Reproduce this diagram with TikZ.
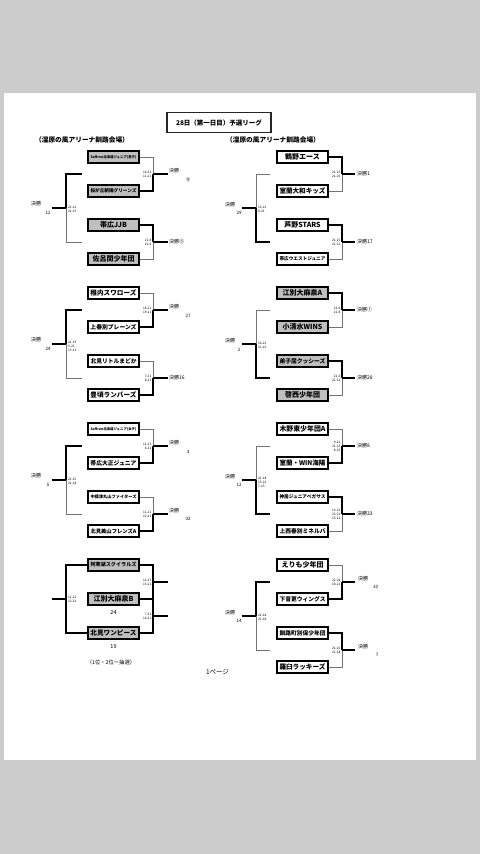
\documentclass[tikz,border=0pt]{standalone}
\usepackage{fontspec}
\setmainfont{Noto Sans CJK JP}
\newsavebox\namebox
\newcommand\fitname[1]{\sbox\namebox{\fontsize{7}{8}\selectfont\bfseries #1}\ifdim\wd\namebox>46pt\resizebox{46pt}{!}{\usebox\namebox}\else\usebox\namebox\fi}
\tikzset{
 teambox/.style={draw=black, line width=1.4pt, minimum width=51pt, minimum height=12pt, inner sep=0pt},
 greybox/.style={teambox, fill=black!25},
 whitebox/.style={teambox, fill=white},
 win/.style={draw=black, line width=1.5pt},
 lose/.style={draw=black!55, line width=0.8pt},
 score/.style={font=\fontsize{3.2}{3.9}\selectfont, inner sep=0pt},
 kes/.style={font=\fontsize{5}{6}\selectfont, inner sep=0pt},
 numlab/.style={font=\fontsize{4.5}{5}\selectfont, inner sep=0pt},
 hdr/.style={font=\fontsize{6.7}{8}\selectfont\bfseries, inner sep=0pt},
}
\begin{document}
\begin{tikzpicture}[x=1pt,y=-1pt]
\fill[black!20] (0,0) rectangle (480,854);
\fill[white] (4,93) rectangle (476,760);
\useasboundingbox (0,0) rectangle (480,854);

% title and headers
\node[draw=black!85, line width=1.6pt, minimum width=104pt, minimum height=20pt, inner sep=0pt, font=\fontsize{6.5}{8}\selectfont\bfseries] (title) at (219,122.5) {28日（第一日目）予選リーグ};
\node[hdr] (hl) at (82,139.5) {（湿原の風アリーナ釧路会場）};
\node[hdr] (hr) at (273,140) {（湿原の風アリーナ釧路会場）};

% ================= LEFT =================
% group 1
\node[greybox] (L1a) at (113.5,157) {\fitname{Saffron北海道ジュニア(男子)}};
\node[greybox] (L1b) at (113.5,191) {\fitname{桜が丘朝陽グリーンズ}};
\node[greybox] (L1c) at (113.5,225) {\fitname{帯広JJB}};
\node[greybox] (L1d) at (113.5,259) {\fitname{佐呂間少年団}};
\coordinate (L1p) at (153,174); \coordinate (L1pe) at (168,174);
\coordinate (L1q) at (153,242); \coordinate (L1qe) at (168,242);
\draw[lose] (L1a.east) -| (L1p); \draw[win] (L1b.east) -| (L1p); \draw[win] (L1p) -- (L1pe);
\draw[win] (L1c.east) -| (L1q); \draw[lose] (L1d.east) -| (L1q); \draw[win] (L1q) -- (L1qe);
\coordinate (L1o1) at (82,174); \coordinate (L1o2) at (82,242); \coordinate (L1ov) at (66,208); \coordinate (L1oe) at (52,208);
\draw[win] (L1o1) -| (L1ov); \draw[lose] (L1o2) -| (L1ov); \draw[win] (L1ov) -- (L1oe);
\node[score, anchor=east, align=right] (L1ps) at (151.5,174) {16-21\\11-21};
\node[score, anchor=east, align=right] (L1qs) at (151.5,242) {21-8\\21-6};
\node[score, anchor=west, align=left] (L1os) at (68,209) {21-12\\21-15};
\node[kes, anchor=west] (L1pk) at (169,170.5) {決勝};
\node[numlab] (L1pn) at (188,180) {⑬};
\node[kes, anchor=west] (L1qk) at (169,242) {決勝⑤};
\node[kes] (L1ok) at (36,204) {決勝};
\node[numlab] (L1on) at (48,213) {12};

% group 2
\node[whitebox] (L2a) at (113.5,293) {\fitname{稚内スワローズ}};
\node[whitebox] (L2b) at (113.5,327) {\fitname{上春別ブレーンズ}};
\node[whitebox] (L2c) at (113.5,361) {\fitname{北見リトルまどか}};
\node[whitebox] (L2d) at (113.5,395) {\fitname{豊頃ランバーズ}};
\coordinate (L2p) at (153,310); \coordinate (L2pe) at (168,310);
\coordinate (L2q) at (153,378); \coordinate (L2qe) at (168,378);
\draw[lose] (L2a.east) -| (L2p); \draw[win] (L2b.east) -| (L2p); \draw[win] (L2p) -- (L2pe);
\draw[lose] (L2c.east) -| (L2q); \draw[win] (L2d.east) -| (L2q); \draw[win] (L2q) -- (L2qe);
\coordinate (L2o1) at (82,310); \coordinate (L2o2) at (82,378); \coordinate (L2ov) at (66,344); \coordinate (L2oe) at (52,344);
\draw[win] (L2o1) -| (L2ov); \draw[lose] (L2o2) -| (L2ov); \draw[win] (L2ov) -- (L2oe);
\node[score, anchor=east, align=right] (L2ps) at (151.5,310) {16-21\\19-21};
\node[score, anchor=east, align=right] (L2qs) at (151.5,378) {7-21\\8-21};
\node[score, anchor=west, align=left] (L2os) at (68,346) {21-19\\9-21\\15-11};
\node[kes, anchor=west] (L2pk) at (169,306.5) {決勝};
\node[numlab] (L2pn) at (188,316) {27};
\node[kes, anchor=west] (L2qk) at (169,378) {決勝16};
\node[kes] (L2ok) at (36,340) {決勝};
\node[numlab] (L2on) at (48,349) {24};

% group 3
\node[whitebox] (L3a) at (113.5,429) {\fitname{Saffron北海道ジュニア(女子)}};
\node[whitebox] (L3b) at (113.5,463) {\fitname{帯広大正ジュニア}};
\node[whitebox] (L3c) at (113.5,497) {\fitname{中標津丸山ファイターズ}};
\node[whitebox] (L3d) at (113.5,531) {\fitname{北見美山フレンズA}};
\coordinate (L3p) at (153,446); \coordinate (L3pe) at (168,446);
\coordinate (L3q) at (153,514); \coordinate (L3qe) at (168,514);
\draw[lose] (L3a.east) -| (L3p); \draw[win] (L3b.east) -| (L3p); \draw[win] (L3p) -- (L3pe);
\draw[lose] (L3c.east) -| (L3q); \draw[win] (L3d.east) -| (L3q); \draw[win] (L3q) -- (L3qe);
\coordinate (L3o1) at (82,446); \coordinate (L3o2) at (82,514); \coordinate (L3ov) at (66,480); \coordinate (L3oe) at (52,480);
\draw[win] (L3o1) -| (L3ov); \draw[lose] (L3o2) -| (L3ov); \draw[win] (L3ov) -- (L3oe);
\node[score, anchor=east, align=right] (L3ps) at (151.5,446) {11-21\\4-21};
\node[score, anchor=east, align=right] (L3qs) at (151.5,514) {11-21\\12-21};
\node[score, anchor=west, align=left] (L3os) at (68,481) {21-15\\21-18};
\node[kes, anchor=west] (L3pk) at (169,442.5) {決勝};
\node[numlab] (L3pn) at (188,452) {3};
\node[kes, anchor=west] (L3qk) at (169,510.5) {決勝};
\node[numlab] (L3qn) at (188,519) {32};
\node[kes] (L3ok) at (36,476) {決勝};
\node[numlab] (L3on) at (48,485) {5};

% group 4
\node[greybox] (L4a) at (113.5,565) {\fitname{阿寒湖スクイラルズ}};
\node[greybox] (L4b) at (113.5,599) {\fitname{江別大麻泉B}};
\node[greybox] (L4c) at (113.5,633) {\fitname{北見ワンピース}};
\coordinate (L4lv) at (66,599); \coordinate (L4le) at (52,599);
\draw[win] (L4a.west) -| (L4lv); \draw[win] (L4c.west) -| (L4lv); \draw[win] (L4lv) -- (L4le);
\coordinate (L4r1) at (153,582); \coordinate (L4r1e) at (168,582);
\coordinate (L4r2) at (153,616); \coordinate (L4r2e) at (168,616);
\coordinate (L4rb) at (153,599);
\draw[win] (L4a.east) -| (L4r1) -- (L4rb) -- (L4r2) |- (L4c.east);
\draw[win] (L4b.east) -- (L4rb);
\draw[win] (L4r1) -- (L4r1e); \draw[win] (L4r2) -- (L4r2e);
\node[score, anchor=west, align=left] (L4os) at (68,599.5) {11-21\\13-21};
\node[score, anchor=east, align=right] (L4ps) at (151.5,582.5) {12-21\\15-21};
\node[score, anchor=east, align=right] (L4qs) at (151.5,616.5) {7-21\\14-21};
\node[font=\fontsize{5.5}{6}\selectfont, inner sep=0pt] (L4bn) at (113.5,612.5) {24};
\node[font=\fontsize{5.5}{6}\selectfont, inner sep=0pt] (L4cn) at (113.5,646.5) {19};
\node[font=\fontsize{5.3}{6}\selectfont, inner sep=0pt] (note) at (111,662) {（1位・2位ー抽選）};
\node[font=\fontsize{6.5}{7}\selectfont, inner sep=0pt] (page) at (217.5,672) {1ページ};

% ================= RIGHT =================
% group 1
\node[whitebox] (R1a) at (302.5,157) {\fitname{鶴野エース}};
\node[whitebox] (R1b) at (302.5,191) {\fitname{室蘭大和キッズ}};
\node[whitebox] (R1c) at (302.5,225) {\fitname{芦野STARS}};
\node[whitebox] (R1d) at (302.5,259) {\fitname{帯広ウエストジュニア}};
\coordinate (R1p) at (342,174); \coordinate (R1pe) at (355,174);
\coordinate (R1q) at (342,242); \coordinate (R1qe) at (355,242);
\draw[win] (R1a.east) -| (R1p); \draw[lose] (R1b.east) -| (R1p); \draw[win] (R1p) -- (R1pe);
\draw[win] (R1c.east) -| (R1q); \draw[lose] (R1d.east) -| (R1q); \draw[win] (R1q) -- (R1qe);
\coordinate (R1o1) at (270,174); \coordinate (R1o2) at (270,242); \coordinate (R1ov) at (256,208); \coordinate (R1oe) at (242,208);
\draw[lose] (R1o1) -| (R1ov); \draw[win] (R1o2) -| (R1ov); \draw[win] (R1ov) -- (R1oe);
\node[score, anchor=east, align=right] (R1ps) at (340.5,174) {21-15\\21-10};
\node[score, anchor=east, align=right] (R1qs) at (340.5,242) {21-15\\21-12};
\node[score, anchor=west, align=left] (R1os) at (258,209) {13-21\\8-21};
\node[kes, anchor=west] (R1pk) at (357,174) {決勝1};
\node[kes, anchor=west] (R1qk) at (357,242) {決勝17};
\node[kes] (R1ok) at (230,204.5) {決勝};
\node[numlab] (R1on) at (239,213) {29};

% group 2
\node[greybox] (R2a) at (302.5,293) {\fitname{江別大麻泉A}};
\node[greybox] (R2b) at (302.5,327) {\fitname{小清水WINS}};
\node[greybox] (R2c) at (302.5,361) {\fitname{弟子屈クッシーズ}};
\node[greybox] (R2d) at (302.5,395) {\fitname{啓西少年団}};
\coordinate (R2p) at (342,310); \coordinate (R2pe) at (355,310);
\coordinate (R2q) at (342,378); \coordinate (R2qe) at (355,378);
\draw[win] (R2a.east) -| (R2p); \draw[lose] (R2b.east) -| (R2p); \draw[win] (R2p) -- (R2pe);
\draw[win] (R2c.east) -| (R2q); \draw[lose] (R2d.east) -| (R2q); \draw[win] (R2q) -- (R2qe);
\coordinate (R2o1) at (270,310); \coordinate (R2o2) at (270,378); \coordinate (R2ov) at (256,344); \coordinate (R2oe) at (242,344);
\draw[lose] (R2o1) -| (R2ov); \draw[win] (R2o2) -| (R2ov); \draw[win] (R2ov) -- (R2oe);
\node[score, anchor=east, align=right] (R2ps) at (340.5,310) {21-6\\21-8};
\node[score, anchor=east, align=right] (R2qs) at (340.5,378) {21-6\\21-12};
\node[score, anchor=west, align=left] (R2os) at (258,345) {16-21\\12-21};
\node[kes, anchor=west] (R2pk) at (357,310) {決勝①};
\node[kes, anchor=west] (R2qk) at (357,378) {決勝28};
\node[kes] (R2ok) at (230,340.5) {決勝};
\node[numlab] (R2on) at (239,350) {2};

% group 3
\node[whitebox] (R3a) at (302.5,429) {\fitname{木野東少年団A}};
\node[whitebox] (R3b) at (302.5,463) {\fitname{室蘭・WIN海陽}};
\node[whitebox] (R3c) at (302.5,497) {\fitname{神居ジュニアペガサス}};
\node[whitebox] (R3d) at (302.5,531) {\fitname{上西春別ミネルバ}};
\coordinate (R3p) at (342,446); \coordinate (R3pe) at (355,446);
\coordinate (R3q) at (342,514); \coordinate (R3qe) at (355,514);
\draw[lose] (R3a.east) -| (R3p); \draw[win] (R3b.east) -| (R3p); \draw[win] (R3p) -- (R3pe);
\draw[win] (R3c.east) -| (R3q); \draw[lose] (R3d.east) -| (R3q); \draw[win] (R3q) -- (R3qe);
\coordinate (R3o1) at (270,446); \coordinate (R3o2) at (270,514); \coordinate (R3ov) at (256,480); \coordinate (R3oe) at (242,480);
\draw[lose] (R3o1) -| (R3ov); \draw[win] (R3o2) -| (R3ov); \draw[win] (R3ov) -- (R3oe);
\node[score, anchor=east, align=right] (R3ps) at (340.5,446) {9-21\\21-13\\8-15};
\node[score, anchor=east, align=right] (R3qs) at (340.5,514) {13-21\\23-21\\15-12};
\node[score, anchor=west, align=left] (R3os) at (258,482) {21-18\\15-21\\7-15};
\node[kes, anchor=west] (R3pk) at (357,446) {決勝8};
\node[kes, anchor=west] (R3qk) at (357,514) {決勝33};
\node[kes] (R3ok) at (230,476.5) {決勝};
\node[numlab] (R3on) at (239,485) {12};

% group 4
\node[whitebox] (R4a) at (302.5,565) {\fitname{えりも少年団}};
\node[whitebox] (R4b) at (302.5,599) {\fitname{下音更ウィングス}};
\node[whitebox] (R4c) at (302.5,633) {\fitname{釧路町別保少年団}};
\node[whitebox] (R4d) at (302.5,667) {\fitname{羅臼ラッキーズ}};
\coordinate (R4p) at (342,582); \coordinate (R4pe) at (355,582);
\coordinate (R4q) at (342,650); \coordinate (R4qe) at (355,650);
\draw[lose] (R4a.east) -| (R4p); \draw[win] (R4b.east) -| (R4p); \draw[win] (R4p) -- (R4pe);
\draw[win] (R4c.east) -| (R4q); \draw[lose] (R4d.east) -| (R4q); \draw[win] (R4q) -- (R4qe);
\coordinate (R4o1) at (270,582); \coordinate (R4o2) at (270,650); \coordinate (R4ov) at (256,616); \coordinate (R4oe) at (242,616);
\draw[win] (R4o1) -| (R4ov); \draw[lose] (R4o2) -| (R4ov); \draw[win] (R4ov) -- (R4oe);
\node[score, anchor=east, align=right] (R4ps) at (340.5,582) {22-24\\18-21};
\node[score, anchor=east, align=right] (R4qs) at (340.5,650) {21-10\\21-18};
\node[score, anchor=west, align=left] (R4os) at (258,617) {21-18\\21-18};
\node[kes, anchor=west] (R4pk) at (358,578.5) {決勝};
\node[numlab] (R4pn) at (375.5,587) {10};
\node[kes, anchor=west] (R4qk) at (358,646.5) {決勝};
\node[numlab] (R4qn) at (377,655) {7};
\node[kes] (R4ok) at (230,612.5) {決勝};
\node[numlab] (R4on) at (239,621) {14};
\end{tikzpicture}
\end{document}
